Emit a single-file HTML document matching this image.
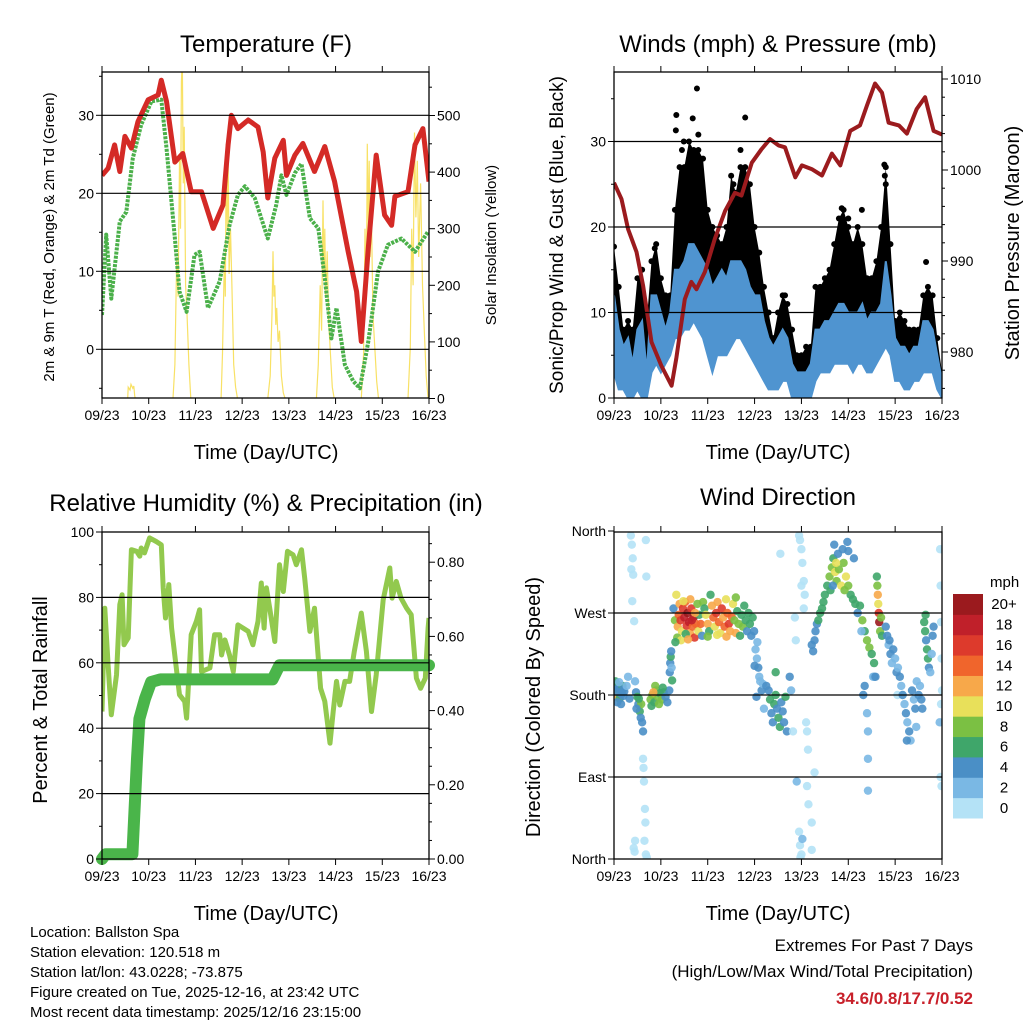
<!DOCTYPE html>
<html><head><meta charset="utf-8"><style>
body{margin:0;background:#fff;}
svg{display:block;font-family:"Liberation Sans",sans-serif;}
</style></head><body>
<svg id="chart" width="1024" height="1024" viewBox="0 0 1024 1024">
<rect width="1024" height="1024" fill="#fff"/>
<defs>
<clipPath id="c1"><rect x="102" y="72" width="327" height="326"/></clipPath>
<clipPath id="c2"><rect x="614" y="72" width="328" height="326"/></clipPath>
<clipPath id="c3"><rect x="102" y="532" width="327" height="327"/></clipPath>
<clipPath id="c4"><rect x="614" y="532" width="328" height="327"/></clipPath>
</defs>
<g id="g1"></g>
<g id="g2"></g>
<g id="g3"></g>
<g id="g4"></g>
<g id="gt">
<text x="266" y="52" font-size="24" text-anchor="middle">Temperature (F)</text>
<text x="778" y="52" font-size="24" text-anchor="middle">Winds (mph) &amp; Pressure (mb)</text>
<text x="266" y="511" font-size="24" text-anchor="middle">Relative Humidity (%) &amp; Precipitation (in)</text>
<text x="778" y="505" font-size="24" text-anchor="middle">Wind Direction</text>
<text x="266" y="459" font-size="20" text-anchor="middle">Time (Day/UTC)</text>
<text x="778" y="459" font-size="20" text-anchor="middle">Time (Day/UTC)</text>
<text x="266" y="920" font-size="20" text-anchor="middle">Time (Day/UTC)</text>
<text x="778" y="920" font-size="20" text-anchor="middle">Time (Day/UTC)</text>
<text transform="translate(54,237) rotate(-90)" font-size="15" text-anchor="middle">2m &amp; 9m T (Red, Orange) &amp; 2m Td (Green)</text>
<text transform="translate(496,245) rotate(-90)" font-size="15" text-anchor="middle">Solar Insolation (Yellow)</text>
<text transform="translate(563,235) rotate(-90)" font-size="19" text-anchor="middle">Sonic/Prop Wind &amp; Gust (Blue, Black)</text>
<text transform="translate(1019,243) rotate(-90)" font-size="20" text-anchor="middle">Station Pressure (Maroon)</text>
<text transform="translate(47,700) rotate(-90)" font-size="20" text-anchor="middle">Percent &amp; Total Rainfall</text>
<text transform="translate(540,707) rotate(-90)" font-size="20" text-anchor="middle">Direction (Colored By Speed)</text>
<g font-size="15">
<text x="30" y="937">Location: Ballston Spa</text>
<text x="30" y="957">Station elevation: 120.518 m</text>
<text x="30" y="977">Station lat/lon: 43.0228; -73.875</text>
<text x="30" y="997">Figure created on Tue, 2025-12-16, at 23:42 UTC</text>
<text x="30" y="1017">Most recent data timestamp: 2025/12/16 23:15:00</text>
</g>
<text x="973" y="951" font-size="17" text-anchor="end">Extremes For Past 7 Days</text>
<text x="973" y="977" font-size="17" text-anchor="end">(High/Low/Max Wind/Total Precipitation)</text>
<text x="973" y="1004" font-size="17" font-weight="bold" fill="#c8202a" text-anchor="end">34.6/0.8/17.7/0.52</text>
<text x="990" y="587" font-size="15">mph</text>
</g>
</svg>
<script>
// ---------- data ----------
const dayLabels=["09/23","10/23","11/23","12/23","13/23","14/23","15/23","16/23"];
const tempT=[0,0.13,0.27,0.38,0.49,0.63,0.77,0.99,1.2,1.27,1.38,1.56,1.73,1.91,2.13,2.38,2.59,2.7,2.77,2.91,3.13,3.34,3.45,3.55,3.7,3.88,3.95,4.13,4.3,4.55,4.77,4.98,5.27,5.45,5.55,5.7,5.87,6.05,6.2,6.27,6.55,6.7,6.87,7.0];
const tempV=[22.3,23.2,26.2,22.8,27.3,25.8,29.2,32,32.6,34.5,31.8,24,25.1,20.2,20.2,15.5,18.5,26.2,30,28.3,29.4,28.5,25.3,19.4,24.5,26.8,22.3,24.9,26.4,22.8,26,21.5,12.5,7.4,1,13,24.9,17.2,15.9,19.6,20.2,26.2,28.3,21.5];
const dewT=[0,0.09,0.2,0.38,0.52,0.66,0.84,1.06,1.27,1.38,1.56,1.66,1.81,1.98,2.09,2.27,2.52,2.73,2.91,3.06,3.27,3.41,3.55,3.73,3.84,3.95,4.13,4.27,4.45,4.63,4.77,4.91,5.02,5.2,5.38,5.52,5.7,5.91,6.12,6.41,6.7,6.98];
const dewV=[4.4,14.7,6.5,16.4,17.6,24.5,28.8,31.8,32,25.8,14.2,7.4,4.8,12.1,12.5,5.3,8.7,15.9,19.8,20.9,19.4,16.8,14.2,18.5,22.3,19.8,22.6,23.8,16.8,15.5,9.1,1.4,5.3,-2,-4.1,-5,1,10,13.4,14.2,12.5,15.1];
const solarT=[0,0.55,0.56,0.6,0.62,0.66,0.68,0.7,0.71,
1.52,1.56,1.6,1.63,1.66,1.68,1.7,1.72,1.74,1.76,1.79,1.82,1.86,1.9,
2.55,2.58,2.62,2.64,2.66,2.68,2.7,2.72,2.75,2.78,2.82,2.86,2.9,
3.55,3.6,3.64,3.66,3.68,3.7,3.72,3.74,3.77,3.8,3.84,3.88,3.92,
4.59,4.63,4.67,4.7,4.73,4.75,4.77,4.79,4.82,4.85,4.89,4.93,4.97,
5.55,5.6,5.63,5.66,5.68,5.7,5.72,5.74,5.77,5.8,5.84,5.88,5.92,
6.55,6.6,6.63,6.66,6.69,6.72,6.75,6.78,6.82,6.86,6.9,6.94,6.98,7];
const solarV=[0,0,20,15,25,18,22,5,0,
0,60,250,180,420,300,560,600,380,480,200,150,60,0,
0,80,250,180,450,300,440,220,300,200,60,20,0,
0,40,150,260,180,200,130,160,100,120,40,10,0,
0,60,200,120,350,220,300,180,260,140,80,20,0,
0,80,300,200,450,300,420,250,320,150,90,30,0,
0,90,300,200,470,320,420,250,380,200,120,40,0,0];
const presT=[0,0.16,0.3,0.48,0.62,0.8,1.01,1.23,1.33,1.51,1.65,1.76,1.94,2.15,2.37,2.58,2.72,2.94,3.15,3.33,3.51,3.65,3.87,4.01,4.22,4.44,4.65,4.83,5.04,5.25,5.4,5.57,5.72,5.86,6.08,6.25,6.46,6.64,6.82,7.0];
const presV=[998.6,996.8,993.5,991,987.3,981.1,978.5,976.3,979.3,985.8,987.7,986.9,988.8,992.4,995.5,997.5,997.2,1000.8,1002.3,1003.4,1002.7,1002.5,999.2,1000.5,1000.1,999.4,1001.8,1000.5,1004.3,1004.9,1007.1,1009.5,1008.5,1005.2,1004.9,1004,1006.7,1008,1004.3,1003.9];
const windLo=[3,1,1,0,0,1,0,0,3,4,3,4,5,7,7,8,8,9,8,7,5,3,5,5,5,6,7,7,6,5,4,3,2,1,1,1,2,2,0,0,0,0,0,2,3,3,3,4,4,4,4,3,4,4,3,3,4,5,6,5,2,2,1,1,2,2,3,3,3,1,0];
const windHi=[12,8,6,7,4,8,9,3,12,12,10,8,10,15,15,16,18,18,17,16,15,13,14,15,14,16,16,16,15,13,12,12,9,7,6,7,8,7,4,3,3,3,4,8,8,9,9,10,11,11,10,10,10,11,9,10,10,11,16,12,7,6,6,5,6,6,9,9,8,5,2];
const gustHi=[17.7,13,8,9,8,14,15,9,16,18,14,12,12,22,27,27,30,29,29,28,22,20,19,18,20,26,24,27,27,25,20,17,13,10,7,10,12,11,8,5,5,6,6,13,13,14,15,18,21,22,20,18,20,18,14,14,16,20,27,18,9,10,9,8,8,8,12,13,12,7,3];
const gustOutT=[1.33,1.32,1.49,1.68,1.77,1.8,2.8,4.86,5.29,5.77,6.66,0.87,3.65,1.45,1.6,2.55,2.7,5.0,5.78,5.8];
const gustOutV=[33.1,31.3,30,32.7,36.2,30.8,32.8,22.2,22,27.3,15.9,17.5,12,29,28,25,29,21,26,25];
const rhT=[0,0.06,0.13,0.2,0.31,0.38,0.43,0.47,0.56,0.63,0.74,0.81,0.84,0.91,1.02,1.16,1.27,1.31,1.36,1.43,1.49,1.59,1.66,1.77,1.81,1.91,2.02,2.09,2.13,2.31,2.41,2.52,2.56,2.63,2.73,2.81,2.91,3.02,3.13,3.23,3.34,3.41,3.47,3.52,3.59,3.7,3.8,3.88,3.97,4.09,4.16,4.27,4.34,4.45,4.55,4.68,4.77,4.88,4.95,5.02,5.09,5.2,5.3,5.4,5.55,5.66,5.77,5.87,6.02,6.16,6.21,6.3,6.4,6.52,6.62,6.73,6.82,6.92,6.98,7.0];
const rhV=[45.1,76.7,59.4,44.1,56.3,77.8,80.8,65.5,67.6,94.6,94.1,92.6,95.1,93.6,98.2,97.1,96.1,82.9,73.7,83.9,70.6,58.4,50.2,48.2,43.1,68.6,72.7,76.2,57.3,58.4,68.6,68.6,62.4,67,62.4,57.3,71.6,70.6,69.6,65.5,72.7,84.4,70.6,82.9,76.7,66.5,90,81.8,94.1,93,90,94.6,85.9,69.6,76.7,52.2,48.2,35.4,45.1,54.3,47.1,54.3,54.3,63.5,75.2,63.5,45.1,56.3,79.3,89,79.8,84.9,79.8,76.7,74.7,55.3,52.2,55.3,70.6,73.7];
const precT=[0,0.08,0.65,0.75,0.8,0.92,1.05,1.25,3.65,3.8,7.0];
const precV=[0,0.013,0.013,0.27,0.378,0.432,0.477,0.484,0.484,0.522,0.522];
const dirT=[0,0.02,0.04,0.06,0.08,0.1,0.12,0.14,0.16,0.18,0.2,0.22,0.03,0.07,0.11,0.15,0.19,
0.36,0.38,0.4,0.37,0.41,0.39,0.43,0.68,0.69,0.27,0.3,0.33,0.45,
0.47,0.5,0.52,0.55,0.57,0.6,0.62,0.58,0.53,0.48,
0.62,0.63,0.64,0.66,0.67,0.65,0.68,0.7,0.45,0.42,0.44,
0.78,0.82,0.86,0.9,0.94,0.98,1.02,1.06,1.1,1.14,1.18,0.8,0.88,0.96,1.04,0.84,
1.19,1.2,1.21,1.22,1.23,1.24,
1.27,1.3,1.33,1.36,1.38,1.4,1.42,1.45,1.47,1.5,1.52,1.55,1.57,1.6,1.62,1.65,1.68,1.7,1.72,1.75,1.78,1.8,1.82,1.85,1.88,1.35,1.43,1.53,1.63,1.73,1.31,1.48,1.58,1.66,
1.9,1.93,1.96,2.0,2.03,2.06,2.09,2.12,2.15,2.18,2.21,2.24,2.27,2.3,2.33,2.36,2.39,2.42,2.45,2.48,2.51,2.54,2.57,2.6,2.63,2.66,2.69,2.72,2.75,2.78,2.81,2.84,2.87,2.9,2.93,2.96,2.99,2.0,2.2,2.4,2.6,
3.02,3.05,3.08,3.1,3.12,3.15,3.06,3.0,3.18,3.04,
3.3,3.33,3.36,3.39,3.42,3.45,3.48,3.51,3.54,3.57,3.6,3.63,3.66,3.69,3.75,3.78,3.25,3.2,3.45,3.82,
3.95,3.97,4.0,4.02,4.05,4.07,4.0,4.05,3.88,3.86,4.1,4.12,4.14,4.12,4.15,3.95,3.97,4.0,3.98,3.9,4.02,3.55,4.28,4.22,4.22,
4.22,4.25,4.28,4.3,4.33,4.36,4.4,4.44,4.47,
4.5,4.55,4.6,4.65,4.68,4.7,4.72,4.75,4.8,4.85,4.9,4.95,5.0,5.05,5.1,4.62,4.78,4.88,4.98,5.0,5.12,4.67,4.74,4.92,
5.15,5.2,5.25,5.3,5.35,5.4,5.45,5.5,5.55,5.55,5.53,5.28,5.35,5.32,5.4,5.42,5.42,5.42,5.58,
5.62,5.63,5.64,5.65,5.66,5.68,5.7,5.72,5.61,
5.8,5.83,5.86,5.9,5.93,5.96,6.0,6.03,6.06,5.88,6.05,
6.1,6.13,6.16,6.2,6.23,6.26,6.3,6.33,6.36,6.4,6.43,6.46,6.5,6.53,6.56,6.58,6.45,6.25,
6.62,6.64,6.66,6.68,6.7,6.72,6.75,6.78,6.8,6.82,6.65,
6.96,6.97,6.98,6.99,7.0,6.98,6.97,6.99,6.95];
const dirV=[185,190,178,192,183,188,176,186,181,190,179,184,195,172,194,170,186,
355,345,330,318,312,283,261,350,310,190,200,176,195,
183,178,170,162,155,150,140,170,176,165,
110,100,85,55,40,20,5,2,20,12,8,
175,180,172,185,178,182,175,183,178,172,185,168,190,170,188,183,
205,215,222,228,210,196,
275,262,290,255,268,280,262,250,275,265,282,256,270,260,248,275,255,265,243,258,280,250,268,258,245,243,240,247,285,270,238,283,241,262,
282,275,268,258,250,290,278,265,255,270,282,260,248,275,265,255,285,270,258,250,266,280,262,248,272,258,245,268,255,278,262,250,270,258,245,265,250,244,246,244,287,
230,220,210,200,195,185,238,212,192,178,
185,175,160,150,170,180,165,155,145,172,162,150,178,140,200,185,190,165,205,140,
355,350,340,325,305,290,300,275,240,265,150,140,120,80,60,30,15,5,2,85,22,335,95,40,10,
235,228,240,250,258,262,270,275,282,
290,300,310,320,330,345,315,305,318,300,325,310,300,290,285,295,335,340,348,338,330,300,325,295,
280,270,278,262,250,240,232,225,215,200,200,250,190,180,160,140,110,75,200,
300,290,280,270,260,250,265,245,310,
255,245,235,225,215,230,220,205,210,240,180,
200,190,180,170,160,150,140,130,185,175,165,195,180,190,175,165,145,130,
260,250,240,230,220,210,205,225,245,255,268,
340,300,260,220,185,170,90,80,150];
const dirS=[6,4,12,4,3,4,5,4,3,6,4,3,5,4,2,4,3,
0,0,0,0,0,0,0,0,0,2,1,4,1,
4,6,4,6,4,3,4,8,6,3,
0,0,0,0,0,0,0,0,0,0,0,
8,8,6,8,8,6,8,6,4,4,4,6,8,8,6,12,
4,4,6,4,2,6,
4,8,10,12,14,12,16,10,16,18,14,16,20,18,12,16,14,20,16,14,8,10,6,14,4,8,10,6,12,12,6,10,12,18,
8,6,10,12,6,6,12,14,10,16,12,14,10,16,12,14,10,14,16,12,14,10,8,12,6,8,6,6,8,6,6,4,6,6,4,6,4,8,10,12,8,
2,2,4,2,2,4,2,4,2,4,
4,6,4,4,6,6,4,6,6,4,4,4,6,4,4,2,4,2,6,0,
0,0,0,0,0,0,0,0,0,0,0,0,0,0,0,0,0,0,0,2,2,0,0,0,0,
4,4,4,4,4,6,6,6,6,
6,6,8,8,6,4,10,8,8,10,8,10,8,6,6,6,4,4,4,4,4,4,10,8,
6,4,6,8,6,8,8,6,6,4,2,2,4,4,2,2,2,2,4,
8,12,10,16,20,8,8,6,6,
4,4,2,4,2,4,2,4,2,4,0,
4,2,4,2,4,2,4,2,4,2,4,2,4,2,4,4,2,4,
6,6,4,6,6,4,2,2,4,4,6,
0,0,0,0,0,0,0,0,2];
const dirLabels=["North","East","South","West","North"];
const speedLabels=["0","2","4","6","8","10","12","14","16","18","20+"];
const speedColors=["#b4e2f6","#7ab8e4","#4a8fc6","#3fa66a","#7bc043","#e8e05a","#f7a84a","#f0652c","#dd3a2c","#c0202a","#9b1a1e"];

// ---------- helpers ----------
const NS="http://www.w3.org/2000/svg";
function mk(tag,attrs,parent){const e=document.createElementNS(NS,tag);for(const k in attrs)e.setAttribute(k,attrs[k]);parent.appendChild(e);return e;}
function ptsOf(T,V,fx,fy){return T.map((t,i)=>fx(t).toFixed(1)+","+fy(V[i]).toFixed(1)).join(" ");}
const xA=t=>102+t*327/7, xB=t=>614+t*328/7;
const yT=v=>349.3-v*7.8, yS=v=>398.5-v*0.566;
const yW=v=>398-v*8.55, yP=p=>170-(p-1000)*9.1;
const yH=v=>859-v*3.27, yR=v=>859-v*371;
const yD=d=>859-d*328/360;

function frame(g,x0,y0,w,h,xs,gridYs,leftTicks,rightTicks,leftMinor,rightMinor){
  gridYs.forEach(y=>{const l=mk('line',{x1:x0,x2:x0+w,y1:y,y2:y,stroke:'#000','stroke-width':1.2},g);
    
    });
  dayLabels.forEach((lab,i)=>{const x=xs(i);
    mk('line',{x1:x,x2:x,y1:y0+h,y2:y0+h+6,stroke:'#000','stroke-width':1},g);
    mk('line',{x1:x,x2:x,y1:y0,y2:y0-6,stroke:'#000','stroke-width':1},g);
    const t=mk('text',{x:x,y:y0+h+22,'font-size':14,'text-anchor':'middle'},g);t.textContent=lab;
    
    });
  leftTicks.forEach(([y,lab])=>{mk('line',{x1:x0-6,x2:x0,y1:y,y2:y,stroke:'#000'},g);
    const t=mk('text',{x:x0-8,y:y+5,'font-size':14,'text-anchor':'end'},g);t.textContent=lab;
    
    });
  rightTicks.forEach(([y,lab])=>{mk('line',{x1:x0+w,x2:x0+w+6,y1:y,y2:y,stroke:'#000'},g);
    const t=mk('text',{x:x0+w+8,y:y+5,'font-size':14},g);t.textContent=lab;
    
    });
  leftMinor.forEach(y=>mk('line',{x1:x0-3,x2:x0,y1:y,y2:y,stroke:'#000'},g));
  rightMinor.forEach(y=>mk('line',{x1:x0+w,x2:x0+w+3,y1:y,y2:y,stroke:'#000'},g));
  const b=mk('rect',{x:x0,y:y0,width:w,height:h,fill:'none',stroke:'#000','stroke-width':1.3},g);
  
  
}

// ---------- panel 1 ----------
const g1=document.getElementById('g1');
const p1=mk('g',{'clip-path':'url(#c1)'},g1);
const sol=mk('polyline',{points:ptsOf(solarT,solarV,xA,yS),fill:'none',stroke:'#f7dc4a','stroke-width':1.2,'stroke-opacity':0.85},p1);


const dw=mk('polyline',{points:ptsOf(dewT,dewV,xA,yT),fill:'none',stroke:'#4bb04a','stroke-width':4,'stroke-dasharray':'3 1.2','stroke-linejoin':'round'},p1);


const tp=mk('polyline',{points:ptsOf(tempT,tempV,xA,yT),fill:'none',stroke:'#d42a26','stroke-width':5,'stroke-linejoin':'round'},p1);


frame(g1,102,72,327,326,xA,[yT(30),yT(20),yT(10),yT(0)],
 [[yT(30),"30"],[yT(20),"20"],[yT(10),"10"],[yT(0),"0"]],
 [[yS(500),"500"],[yS(400),"400"],[yS(300),"300"],[yS(200),"200"],[yS(100),"100"],[yS(0),"0"]],
 [yT(35),yT(25),yT(15),yT(5),yT(-5)],
 [50,150,250,350,450,550].map(yS));

// ---------- panel 2 ----------
const g2=document.getElementById('g2');
const p2=mk('g',{'clip-path':'url(#c2)'},g2);
const wT=windLo.map((v,i)=>i*0.1);
const gp=mk('polygon',{points:ptsOf(wT,gustHi,xB,yW)+" "+ptsOf(wT.slice().reverse(),windLo.slice().reverse(),xB,yW),fill:'#000'},p2);


gustHi.forEach((v,i)=>{const c=mk('circle',{cx:xB(wT[i]),cy:yW(v),r:3,fill:'#000'},p2);
  
  });
gustOutT.forEach((t,i)=>{const c=mk('circle',{cx:xB(t),cy:yW(gustOutV[i]),r:3,fill:'#000'},p2);
  
  });
const bp=mk('polygon',{points:ptsOf(wT,windHi,xB,yW)+" "+ptsOf(wT.slice().reverse(),windLo.slice().reverse(),xB,yW),fill:'#4f94d0',stroke:'#4f94d0','stroke-width':2},p2);


const pr=mk('polyline',{points:ptsOf(presT,presV,xB,yP),fill:'none',stroke:'#9b1b1e','stroke-width':4,'stroke-linejoin':'round'},p2);


frame(g2,614,72,328,326,xB,[yW(30),yW(20),yW(10)],
 [[yW(30),"30"],[yW(20),"20"],[yW(10),"10"],[yW(0),"0"]],
 [[yP(1010),"1010"],[yP(1000),"1000"],[yP(990),"990"],[yP(980),"980"]],
 [yW(35),yW(25),yW(15),yW(5)],
 [1008,1006,1004,1002,998,996,994,992,988,986,984,982,978,976].map(yP));

// ---------- panel 3 ----------
const g3=document.getElementById('g3');
const p3=mk('g',{'clip-path':'url(#c3)'},g3);
const rh=mk('polyline',{points:ptsOf(rhT,rhV,xA,yH),fill:'none',stroke:'#92c94e','stroke-width':5,'stroke-linejoin':'round'},p3);


const pc=mk('polyline',{points:ptsOf(precT,precV,xA,yR),fill:'none',stroke:'#4ab54a','stroke-width':12,'stroke-linejoin':'round','stroke-linecap':'round'},g3);


frame(g3,102,532,327,327,xA,[yH(80),yH(60),yH(40),yH(20)],
 [[yH(100),"100"],[yH(80),"80"],[yH(60),"60"],[yH(40),"40"],[yH(20),"20"],[yH(0),"0"]],
 [[yR(0.8),"0.80"],[yR(0.6),"0.60"],[yR(0.4),"0.40"],[yR(0.2),"0.20"],[yR(0),"0.00"]],
 [90,70,50,30,10].map(yH),
 [0.05,0.1,0.15,0.25,0.3,0.35,0.45,0.5,0.55,0.65,0.7,0.75,0.85].map(yR));

// ---------- panel 4 ----------
const g4=document.getElementById('g4');
const p4=mk('g',{'clip-path':'url(#c4)'},g4);
dirT.forEach((t,i)=>{const idx=Math.min(10,Math.round(dirS[i]/2));
  const c=mk('circle',{cx:xB(t),cy:yD(dirV[i]),r:4.2,fill:speedColors[idx],'fill-opacity':0.9},p4);
  
  });
frame(g4,614,532,328,327,xB,[yD(270),yD(180),yD(90)],
 dirLabels.map((l,i)=>[yD(i*90),l]),[],[],[]);
speedColors.forEach((c,i)=>{const y=818-(i+1)*224/11;
  const r=mk('rect',{x:953,y:y,width:30,height:224/11+0.5,fill:c},g4);
  
  
  const t=mk('text',{x:1004,y:y+224/22+5,'font-size':15,'text-anchor':'middle'},g4);t.textContent=speedLabels[i];
  
  });
</script>
</body></html>
